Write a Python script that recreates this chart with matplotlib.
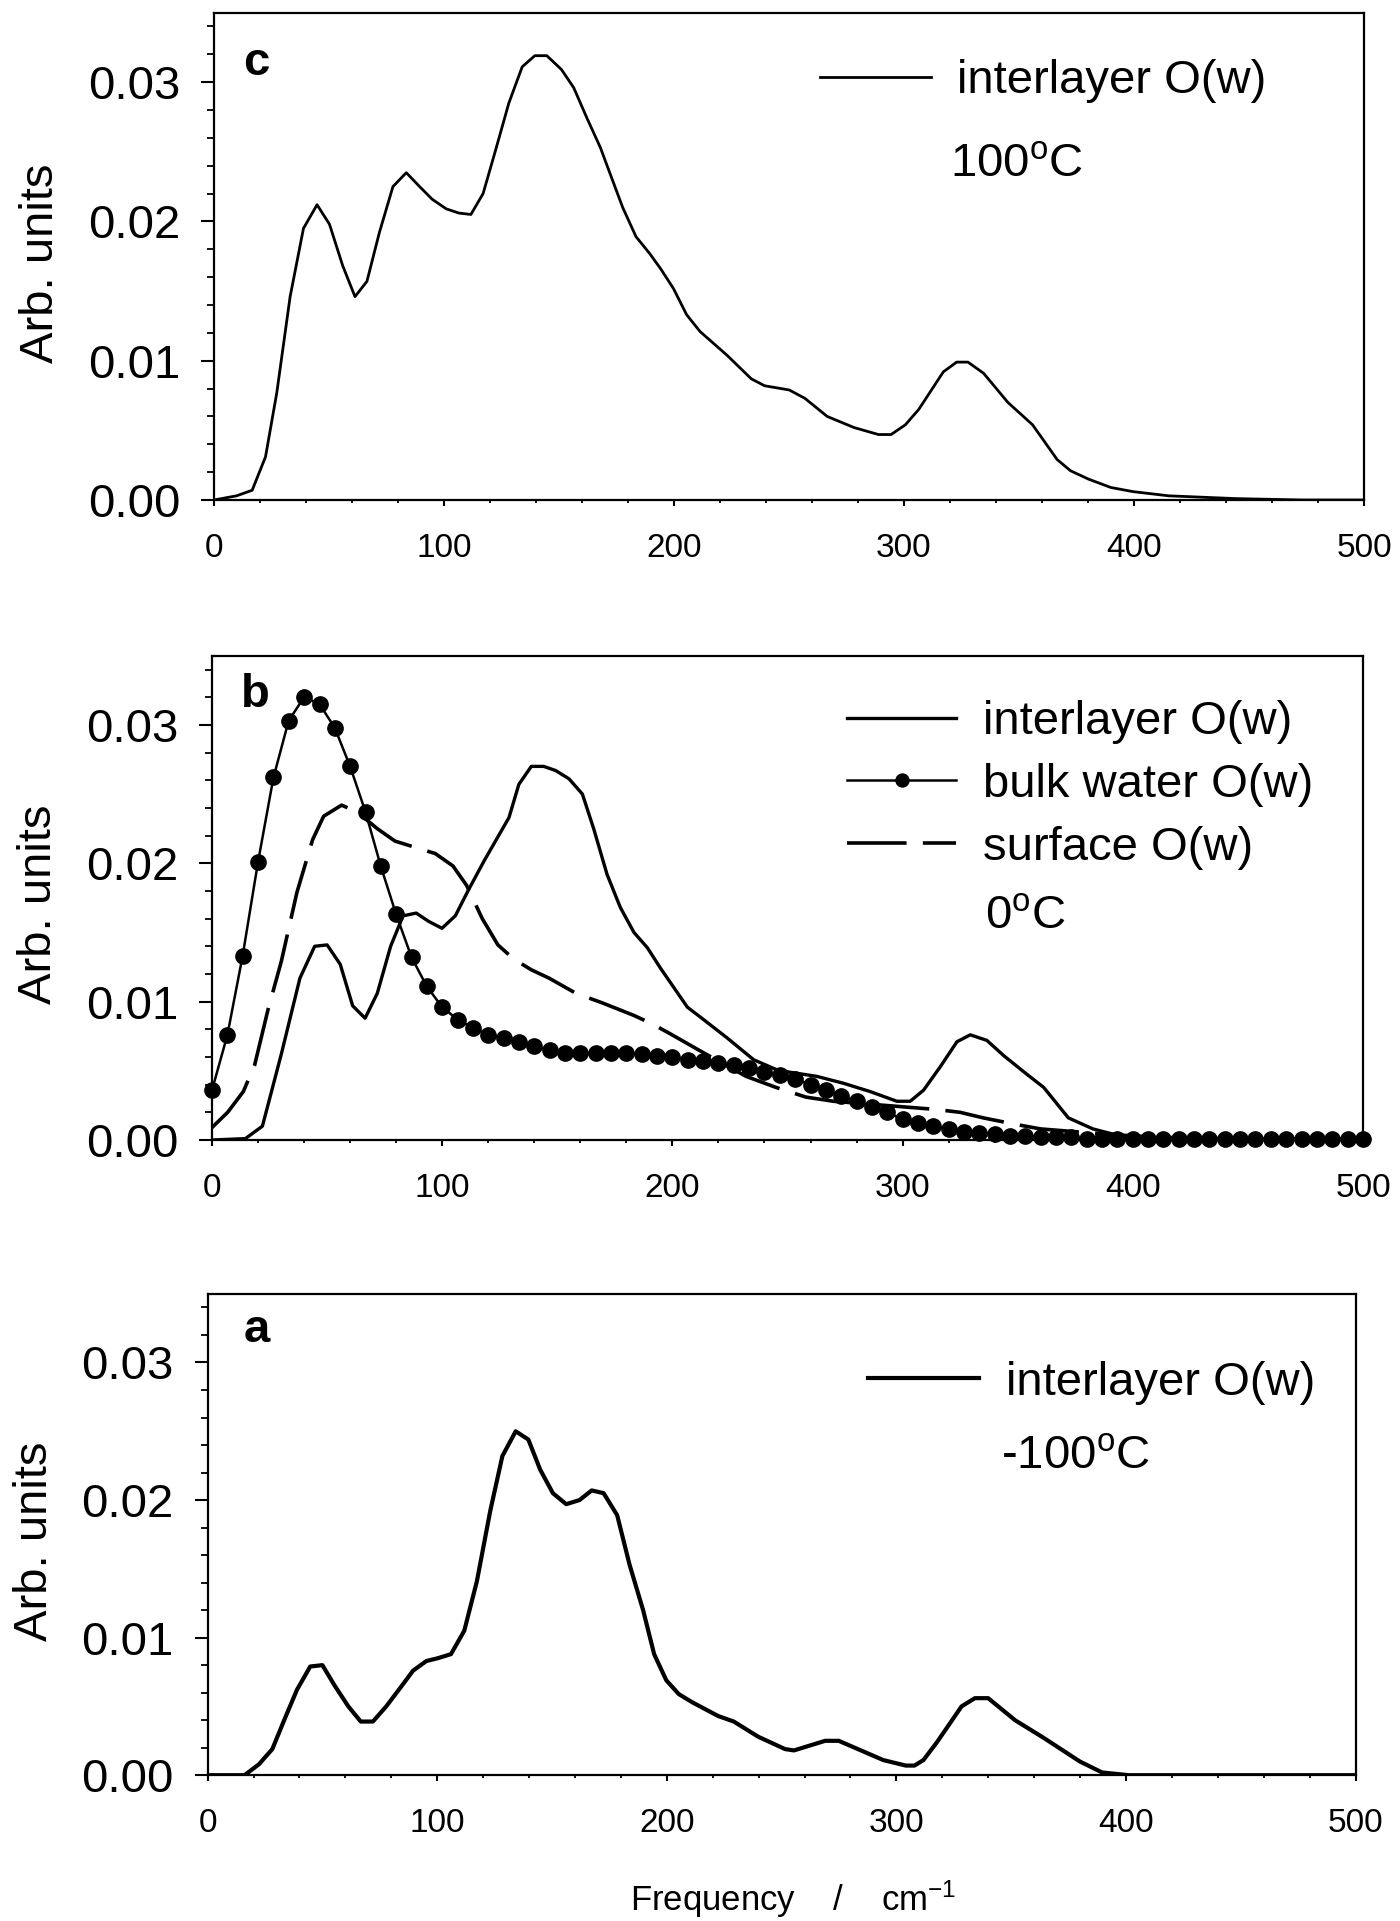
import matplotlib
matplotlib.use("Agg")
import matplotlib.pyplot as plt
from matplotlib.ticker import MultipleLocator, FormatStrFormatter

plt.rcParams['font.family'] = ['Liberation Sans', 'DejaVu Sans']
plt.rcParams['mathtext.fontset'] = 'custom'
plt.rcParams['mathtext.rm'] = 'Liberation Sans'
plt.rcParams['mathtext.it'] = 'Liberation Sans:italic'
plt.rcParams['mathtext.bf'] = 'Liberation Sans:bold'

# ---------------- data ----------------
# panel c: interlayer O(w), 100 C
c_x = [0, 9.8, 16.6, 22.4, 27.3, 33.1, 38.9, 44.8, 50.2, 56.0, 61.3, 66.5, 71.9, 77.8,
       83.6, 89.4, 94.8, 101.0, 106.5, 111.7, 117.0, 122.4, 128.2, 134.0, 139.5, 144.7,
       151.1, 156.4, 162.2, 168.0, 172.5, 177.7, 183.5, 189.4, 194.2, 199.7, 205.5,
       211.3, 223.0, 233.6, 239.4, 250.1, 256.9, 266.6, 278.3, 288.9, 294.4, 300.6,
       306.4, 317.1, 322.9, 327.8, 334.6, 345.2, 355.9, 366.6, 372.4, 380.2, 389.9,
       399.6, 415.1, 444.2, 473.3, 500]
c_y = [0.0, 0.0003, 0.0007, 0.0031, 0.0077, 0.0146, 0.0195, 0.0212, 0.0198, 0.0168,
       0.0146, 0.0157, 0.0192, 0.0225, 0.0235, 0.0225, 0.0216, 0.0209, 0.0206, 0.0205,
       0.0220, 0.0251, 0.0285, 0.0311, 0.0319, 0.0319, 0.0309, 0.0296, 0.0274, 0.0253,
       0.0233, 0.0210, 0.0189, 0.0177, 0.0166, 0.0152, 0.0133, 0.0121, 0.0104, 0.0087,
       0.0082, 0.0079, 0.0073, 0.0060, 0.0052, 0.0047, 0.0047, 0.0054, 0.0065, 0.0092,
       0.0099, 0.0099, 0.0091, 0.0070, 0.0054, 0.0029, 0.0021, 0.0015, 0.0009, 0.0006,
       0.0003, 0.0001, 0.0, 0.0]

# panel b: interlayer O(w), 0 C
b_int_x = [0, 14.5, 21.9, 30.1, 38.2, 44.6, 50.0, 55.7, 61.1, 66.5, 71.8, 77.6, 83.0,
           88.7, 94.1, 99.9, 105.7, 111.5, 118.3, 129.0, 133.3, 138.7, 144.1, 149.3,
           155.1, 160.9, 165.8, 171.6, 177.4, 183.3, 189.1, 194.9, 200.7, 206.5, 212.0,
           223.6, 235.3, 245.0, 251.0, 262.7, 274.3, 285.9, 297.5, 303.3, 309.1, 316.4,
           323.6, 329.4, 336.6, 343.9, 353.6, 361.3, 372.0, 382.7, 394.3, 405.0, 500]
b_int_y = [0.0, 0.0001, 0.0010, 0.0062, 0.0117, 0.0140, 0.0141, 0.0127, 0.0097, 0.0088,
           0.0106, 0.0140, 0.0162, 0.0164, 0.0158, 0.0153, 0.0162, 0.0181, 0.0202, 0.0233,
           0.0257, 0.0270, 0.0270, 0.0267, 0.0261, 0.0250, 0.0225, 0.0192, 0.0168, 0.0150,
           0.0139, 0.0124, 0.0110, 0.0096, 0.0089, 0.0074, 0.0058, 0.0051, 0.0049, 0.0046,
           0.0041, 0.0035, 0.0028, 0.0028, 0.0036, 0.0053, 0.0071, 0.0076, 0.0072, 0.0061,
           0.0048, 0.0038, 0.0016, 0.0008, 0.0003, 0.0001, 0.0]

# panel b: bulk water O(w)
b_bulk_x = [0, 6.7, 13.3, 20, 26.7, 33.3, 40, 46.7, 53.3, 60, 66.7, 73.3, 80, 86.7, 93.3,
            100, 106.7, 113.3, 120, 126.7, 133.3, 140, 146.7, 153.3, 160, 166.7, 173.3,
            180, 186.7, 193.3, 200, 206.7, 213.3, 220, 226.7, 233.3, 240, 246.7, 253.3,
            260, 266.7, 273.3, 280, 286.7, 293.3, 300, 306.7, 313.3, 320, 326.7, 333.3,
            340, 346.7, 353.3, 360, 366.7, 373.3, 380, 386.7, 393.3, 400, 406.7, 413.3,
            420, 426.7, 433.3, 440, 446.7, 453.3, 460, 466.7, 473.3, 480, 486.7, 493.3, 500]
b_bulk_y = [0.0036, 0.0076, 0.0133, 0.0201, 0.0262, 0.0303, 0.0320, 0.0315, 0.0298,
            0.0270, 0.0237, 0.0198, 0.0163, 0.0132, 0.0111, 0.0096, 0.0087, 0.0081,
            0.0076, 0.0074, 0.0071, 0.0068, 0.0065, 0.0063, 0.0063, 0.0063, 0.0063,
            0.0063, 0.0062, 0.0061, 0.0060, 0.0058, 0.0057, 0.0056, 0.0054, 0.0052,
            0.0049, 0.0047, 0.0044, 0.0040, 0.0036, 0.0032, 0.0028, 0.0024, 0.0020,
            0.0015, 0.0012, 0.0010, 0.0008, 0.0006, 0.0005, 0.0004, 0.0003, 0.0003,
            0.0002, 0.0002, 0.0002, 0.0001, 0.0001, 0.0001, 0.0001, 0.0001, 0.0001,
            0.0001, 0.0001, 0.0001, 0.0001, 0.0001, 0.0001, 0.0001, 0.0001, 0.0001,
            0.0001, 0.0001, 0.0001, 0.0001]

# panel b: surface O(w)
b_surf_x = [0, 6.8, 13.6, 18.5, 24.3, 30.1, 36.9, 43.7, 48.5, 56.3, 63.1, 71.8, 79.5,
            89.2, 97.0, 104.7, 110.6, 117.4, 124.2, 130.9, 138.7, 146.4, 158.1, 169.7,
            183.3, 191.1, 198.8, 210.4, 220, 232, 245, 258, 270, 285, 300, 315, 325, 335,
            350, 360, 375, 390, 410, 440, 470, 500]
b_surf_y = [0.0009, 0.0020, 0.0035, 0.0054, 0.0094, 0.0129, 0.0179, 0.0217, 0.0234,
            0.0242, 0.0237, 0.0225, 0.0216, 0.0211, 0.0207, 0.0198, 0.0184, 0.0160,
            0.0141, 0.0131, 0.0123, 0.0117, 0.0106, 0.0099, 0.0090, 0.0084, 0.0077,
            0.0066, 0.0057, 0.0046, 0.0038, 0.0031, 0.0028, 0.0026, 0.0024, 0.0022,
            0.0020, 0.0016, 0.0011, 0.0008, 0.0006, 0.0004, 0.0002, 0.0001, 0.0, 0.0]

# panel a: interlayer O(w), -100 C
a_x = [0, 16.1, 22.4, 28.2, 33.1, 38.9, 44.7, 50.0, 55.4, 61.3, 66.7, 72.0, 77.8, 83.7,
       89.5, 95.3, 100.2, 106.0, 111.8, 117.3, 123.1, 128.4, 134.2, 139.7, 144.9, 150.4,
       156.2, 162.0, 167.3, 172.5, 178.4, 183.8, 189.7, 194.5, 199.8, 205.2, 211.1,
       222.4, 229.2, 239.8, 251.5, 255.4, 269.0, 274.9, 284.6, 294.3, 304.1, 307.9,
       311.8, 317.7, 328.4, 334.2, 340.0, 351.7, 364.3, 379.9, 389.6, 401.3, 500]
a_y = [0.0, 0.0, 0.0008, 0.0019, 0.0039, 0.0062, 0.0079, 0.0080, 0.0065, 0.0050, 0.0039,
       0.0039, 0.0050, 0.0063, 0.0076, 0.0083, 0.0085, 0.0088, 0.0105, 0.0141, 0.0192,
       0.0232, 0.0250, 0.0244, 0.0222, 0.0205, 0.0197, 0.0200, 0.0207, 0.0205, 0.0189,
       0.0153, 0.0120, 0.0088, 0.0069, 0.0059, 0.0053, 0.0043, 0.0039, 0.0028, 0.0019,
       0.0018, 0.0025, 0.0025, 0.0018, 0.0011, 0.0007, 0.0007, 0.0011, 0.0024, 0.0050,
       0.0056, 0.0056, 0.0040, 0.0027, 0.0010, 0.0002, 0.0, 0.0]

panel_letters = ['c', 'b', 'a']
temperatures = ['100$^{\\mathrm{o}}$C', '0$^{\\mathrm{o}}$C', '-100$^{\\mathrm{o}}$C']
labels_b = ['interlayer O(w)', 'bulk water O(w)', 'surface O(w)']
x_ticks = [0, 100, 200, 300, 400, 500]
y_ticks = [0.00, 0.01, 0.02, 0.03]

# ---------------- figure ----------------
W, H = 1400, 1921
fig = plt.figure(figsize=(W / 100, H / 100), dpi=100)


def axes_px(left, right, top, bottom):
    return fig.add_axes([left / W, 1 - bottom / H, (right - left) / W, (bottom - top) / H])


ax_c = axes_px(214, 1364, 12.5, 500)
ax_b = axes_px(212, 1363, 655.7, 1140)
ax_a = axes_px(207.6, 1355.5, 1293.7, 1775.2)

FS = 34


def style(ax):
    ax.set_xlim(0, 500)
    ax.set_ylim(0, 0.035)
    ax.set_xticks(x_ticks)
    ax.set_yticks(y_ticks)
    ax.xaxis.set_minor_locator(MultipleLocator(20))
    ax.yaxis.set_minor_locator(MultipleLocator(0.002))
    ax.yaxis.set_major_formatter(FormatStrFormatter('%.2f'))
    ax.tick_params(axis='y', which='major', direction='out', length=9.4, width=1.5,
                   labelsize=FS, pad=15)
    ax.tick_params(axis='y', which='minor', direction='out', length=5, width=1.3)
    ax.tick_params(axis='x', which='major', direction='out', length=4.5, width=1.5,
                   labelsize=24, pad=19)
    ax.tick_params(axis='x', which='minor', direction='out', length=2.5, width=1.3)
    ax.tick_params(which='both', top=False, right=False)
    for s in ax.spines.values():
        s.set_linewidth(1.6)
    ax.set_ylabel('Arb. units', fontsize=FS)
    ax.yaxis.set_label_coords(-0.131, 0.486)


for ax in (ax_c, ax_b, ax_a):
    style(ax)

# panel c
ax_c.plot(c_x, c_y, color='black', lw=2.0, label='interlayer O(w)')
ax_c.legend(loc='center left', bbox_to_anchor=(0.527, 0.859), frameon=False,
            fontsize=FS, handlelength=2.36, handletextpad=0.55, borderpad=0,
            borderaxespad=0)
ax_c.text(0.025, 0.872, panel_letters[0], transform=ax_c.transAxes, fontsize=FS,
          fontweight='bold', va='baseline', ha='left')
ax_c.text(0.640, 0.663, temperatures[0], transform=ax_c.transAxes, fontsize=FS,
          va='baseline', ha='left')

# panel b
ax_b.plot(b_bulk_x, b_bulk_y, color='black', lw=1.8, marker='o', markersize=11,
          clip_on=False, zorder=3, label=labels_b[1])
ax_b.plot(b_int_x, b_int_y, color='black', lw=2.4, zorder=4, label=labels_b[0])
ax_b.plot(b_surf_x, b_surf_y, color='black', lw=2.6, ls=(0, (16.5, 4.5)), zorder=4,
          label=labels_b[2])
h, l = ax_b.get_legend_handles_labels()
order = [l.index(t) for t in labels_b]
ax_b.legend([h[i] for i in order], [l[i] for i in order], loc='center left',
            bbox_to_anchor=(0.552, 0.733), frameon=False, fontsize=FS,
            handlelength=2.31, handletextpad=0.57, borderpad=0, borderaxespad=0,
            labelspacing=0.4, markerscale=0.85)
ax_b.text(0.025, 0.894, panel_letters[1], transform=ax_b.transAxes, fontsize=FS,
          fontweight='bold', va='baseline', ha='left')
ax_b.text(0.672, 0.436, temperatures[1], transform=ax_b.transAxes, fontsize=FS,
          va='baseline', ha='left')

# panel a
ax_a.plot(a_x, a_y, color='black', lw=3.0, label='interlayer O(w)')
ax_a.legend(loc='center left', bbox_to_anchor=(0.575, 0.815), frameon=False,
            fontsize=FS, handlelength=2.36, handletextpad=0.57, borderpad=0,
            borderaxespad=0)
ax_a.text(0.031, 0.900, panel_letters[2], transform=ax_a.transAxes, fontsize=FS,
          fontweight='bold', va='baseline', ha='left')
ax_a.text(0.691, 0.637, temperatures[2], transform=ax_a.transAxes, fontsize=FS,
          va='baseline', ha='left')
ax_a.set_xlabel('Frequency    /    cm$^{-1}$', fontsize=25)
ax_a.xaxis.set_label_coords(0.51, -0.215)

fig.savefig('out.png', dpi=100)
